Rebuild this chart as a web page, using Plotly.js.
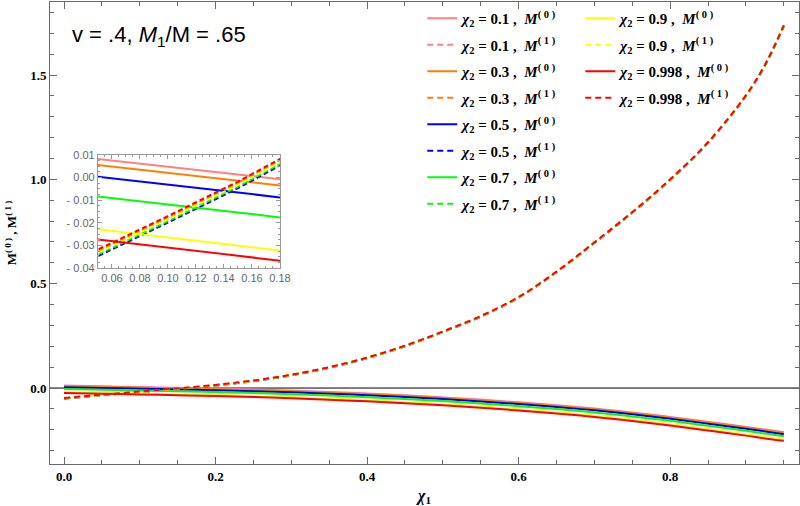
<!DOCTYPE html>
<html>
<head>
<meta charset="utf-8">
<script src="https://cdn.plot.ly/plotly-3.0.1.min.js"></script>
<style>html,body{margin:0;padding:0;background:#fff;}#chart{width:800px;height:506px;}</style>
</head>
<body>
<div id="chart"></div>
<script>
// chi_1 sample positions
const chi1 = [0, 0.05, 0.1, 0.15, 0.2, 0.25, 0.3, 0.35, 0.4, 0.45, 0.5, 0.55, 0.6, 0.65, 0.7, 0.75, 0.8, 0.85, 0.9, 0.925, 0.95];

// chi_2 values and series labels
const chi2Values = ["0.1", "0.3", "0.5", "0.7", "0.9", "0.998"];
const seriesColors = ["#FF8080", "#FF8000", "#0000FF", "#00FF00", "#FFFF00", "#FF0000"];

// M^(0) curves (solid)
const M0_01  = [0.0116, 0.0083, 0.0048, 0.0014, -0.0022, -0.0069, -0.0123, -0.0188, -0.0262, -0.0346, -0.0446, -0.0555, -0.0685, -0.0824, -0.0983, -0.1173, -0.1382, -0.1621, -0.1861, -0.1990, -0.2120];
const M0_03  = [0.0090, 0.0056, 0.0021, -0.0014, -0.0049, -0.0097, -0.0151, -0.0215, -0.0289, -0.0373, -0.0472, -0.0581, -0.0710, -0.0849, -0.1008, -0.1197, -0.1406, -0.1645, -0.1884, -0.2014, -0.2144];
const M0_05  = [0.0038, 0.0004, -0.0031, -0.0066, -0.0102, -0.0150, -0.0205, -0.0270, -0.0345, -0.0430, -0.0530, -0.0640, -0.0770, -0.0910, -0.1070, -0.1260, -0.1470, -0.1710, -0.1950, -0.2080, -0.2210];
const M0_07  = [-0.0049, -0.0083, -0.0118, -0.0154, -0.0191, -0.0240, -0.0296, -0.0362, -0.0438, -0.0524, -0.0625, -0.0736, -0.0867, -0.1008, -0.1169, -0.1360, -0.1571, -0.1811, -0.2052, -0.2182, -0.2310];
const M0_09  = [-0.0192, -0.0228, -0.0264, -0.0300, -0.0337, -0.0387, -0.0444, -0.0511, -0.0588, -0.0675, -0.0778, -0.0890, -0.1022, -0.1165, -0.1328, -0.1521, -0.1734, -0.1977, -0.2220, -0.2352, -0.2475];
const M0_0998 = [-0.0238, -0.0273, -0.0309, -0.0345, -0.0383, -0.0433, -0.0491, -0.0559, -0.0637, -0.0726, -0.0829, -0.0942, -0.1075, -0.1219, -0.1383, -0.1577, -0.1791, -0.2035, -0.2280, -0.2413, -0.2528];

// M^(1) curves (dashed)
const M1_01  = [-0.0489, -0.0326, -0.0178, -0.0026, 0.0141, 0.0351, 0.0631, 0.0991, 0.1451, 0.2021, 0.2701, 0.3441, 0.4351, 0.5571, 0.6971, 0.8421, 0.9991, 1.1771, 1.4021, 1.5471, 1.7371];
const M1_03  = [-0.0488, -0.0325, -0.0177, -0.0025, 0.0142, 0.0352, 0.0632, 0.0992, 0.1452, 0.2022, 0.2702, 0.3442, 0.4352, 0.5572, 0.6972, 0.8422, 0.9992, 1.1772, 1.4022, 1.5472, 1.7372];
const M1_05  = [-0.0510, -0.0347, -0.0199, -0.0047, 0.0120, 0.0330, 0.0610, 0.0970, 0.1430, 0.2000, 0.2680, 0.3420, 0.4330, 0.5550, 0.6950, 0.8400, 0.9970, 1.1750, 1.4000, 1.5450, 1.7350];
const M1_07  = [-0.0503, -0.0340, -0.0192, -0.0040, 0.0127, 0.0337, 0.0617, 0.0977, 0.1437, 0.2007, 0.2687, 0.3427, 0.4337, 0.5557, 0.6957, 0.8407, 0.9977, 1.1757, 1.4007, 1.5457, 1.7357];
const M1_09  = [-0.0495, -0.0332, -0.0184, -0.0032, 0.0135, 0.0345, 0.0625, 0.0985, 0.1445, 0.2015, 0.2695, 0.3435, 0.4345, 0.5565, 0.6965, 0.8415, 0.9985, 1.1765, 1.4015, 1.5465, 1.7365];
const M1_0998 = [-0.0481, -0.0318, -0.0170, -0.0018, 0.0149, 0.0359, 0.0639, 0.0999, 0.1459, 0.2029, 0.2709, 0.3449, 0.4359, 0.5579, 0.6979, 0.8429, 0.9999, 1.1779, 1.4029, 1.5479, 1.7379];

const M0series = [M0_01, M0_03, M0_05, M0_07, M0_09, M0_0998];
const M1series = [M1_01, M1_03, M1_05, M1_07, M1_09, M1_0998];

// inset tick labels
const insetYTickVals = [-0.04, -0.03, -0.02, -0.01, 0.0, 0.01];
const insetYTickText = ["- 0.04", "- 0.03", "- 0.02", "- 0.01", "0.00", "0.01"];

const NB = '\u00A0';
const traces = [];
const insetTraces = [];
for (let i = 0; i < chi2Values.length; i++) {
  const leg = i < 4 ? 'legend' : 'legend2';
  const base = '<i>χ</i><sub>2</sub>' + NB + '=' + NB + chi2Values[i] + NB + ',' + NB + NB + '<i>M</i>';
  const sup0 = '<sup>(' + NB + '0' + NB + ')</sup>';
  const sup1 = '<sup>(' + NB + '1' + NB + ')</sup>';
  traces.push({
    x: chi1, y: M0series[i], type: 'scatter', mode: 'lines',
    line: {color: seriesColors[i], width: 2, shape: 'spline'},
    name: base + sup0, legend: leg, legendgroup: 'g0_' + i, xaxis: 'x', yaxis: 'y'
  });
  traces.push({
    x: chi1, y: M1series[i], type: 'scatter', mode: 'lines',
    line: {color: seriesColors[i], width: 2, dash: '6px,4px', shape: 'spline'},
    name: base + sup1, legend: leg, legendgroup: 'g1_' + i, xaxis: 'x', yaxis: 'y'
  });
  insetTraces.push({
    x: chi1, y: M0series[i], type: 'scatter', mode: 'lines',
    line: {color: seriesColors[i], width: 2},
    showlegend: false, xaxis: 'x2', yaxis: 'y2', hoverinfo: 'skip'
  });
  insetTraces.push({
    x: chi1, y: M1series[i], type: 'scatter', mode: 'lines',
    line: {color: seriesColors[i], width: 2, dash: '5px,3px'},
    showlegend: false, xaxis: 'x2', yaxis: 'y2', hoverinfo: 'skip'
  });
}

const frameColor = '#6a6a6a';
const serifBold = {family: 'Liberation Serif', size: 13, color: '#000', weight: 'bold'};
const legendFont = {family: 'Liberation Serif', size: 15, color: '#000', weight: 'bold'};
const insetFont = {family: 'Liberation Sans', size: 11, color: '#666'};

const layout = {
  width: 800, height: 506,
  margin: {l: 50, r: 1, t: 2, b: 42},
  paper_bgcolor: '#fff', plot_bgcolor: '#fff',
  showlegend: true,
  xaxis: {
    domain: [0, 1], anchor: 'y', range: [-0.0185, 0.970],
    showline: true, mirror: 'ticks', linecolor: frameColor, linewidth: 1,
    ticks: 'inside', ticklen: 7, tickwidth: 1, tickcolor: frameColor,
    tick0: 0, dtick: 0.2, tickformat: '.1f',
    minor: {dtick: 0.05, ticks: 'inside', ticklen: 4, tickcolor: frameColor, showgrid: false},
    tickfont: serifBold, showgrid: false, zeroline: false,
    title: {text: '<i>χ</i><sub>1</sub>', font: {family: 'Liberation Serif', size: 16, color: '#000', weight: 'bold'}, standoff: 15}
  },
  yaxis: {
    domain: [0, 1], anchor: 'x', range: [-0.364, 1.85],
    showline: true, mirror: 'ticks', linecolor: frameColor, linewidth: 1,
    ticks: 'inside', ticklen: 7, tickwidth: 1, tickcolor: frameColor,
    tick0: 0, dtick: 0.5, tickformat: '.1f',
    minor: {dtick: 0.1, ticks: 'inside', ticklen: 4, tickcolor: frameColor, showgrid: false},
    tickfont: serifBold, showgrid: false, zeroline: false,
    title: {text: 'M<sup>(' + NB + '0' + NB + ')</sup>' + NB + ',' + NB + 'M<sup>(' + NB + '1' + NB + ')</sup>', font: {family: 'Liberation Serif', size: 13, color: '#000', weight: 'bold'}, standoff: 10}
  },
  xaxis2: {
    domain: [0.064, 0.307], anchor: 'y2', range: [0.05, 0.18],
    showline: true, mirror: 'ticks', linecolor: '#999', linewidth: 1,
    ticks: 'inside', ticklen: 4, tickwidth: 1, tickcolor: '#999',
    tick0: 0.06, dtick: 0.02, tickformat: '.2f',
    minor: {dtick: 0.005, ticks: 'inside', ticklen: 2, tickcolor: '#999', showgrid: false},
    tickfont: insetFont, showgrid: false, zeroline: false
  },
  yaxis2: {
    domain: [0.424, 0.669], anchor: 'x2', range: [-0.04, 0.01],
    showline: true, mirror: 'ticks', linecolor: '#999', linewidth: 1,
    ticks: 'inside', ticklen: 4, tickwidth: 1, tickcolor: '#999',
    tickmode: 'array', tickvals: insetYTickVals, ticktext: insetYTickText,
    minor: {tickmode: 'linear', tick0: 0, dtick: 0.0025, ticks: 'inside', ticklen: 2, tickcolor: '#999', showgrid: false},
    tickfont: insetFont, showgrid: false, zeroline: false
  },
  legend: {
    x: 0.497, y: 1.0, xanchor: 'left', yanchor: 'top',
    font: legendFont, bgcolor: 'rgba(0,0,0,0)', borderwidth: 0, tracegroupgap: 4
  },
  legend2: {
    x: 0.708, y: 1.0, xanchor: 'left', yanchor: 'top',
    font: legendFont, bgcolor: 'rgba(0,0,0,0)', borderwidth: 0, tracegroupgap: 4
  },
  shapes: [
    {type: 'line', xref: 'paper', x0: 0, x1: 1, yref: 'y', y0: 0, y1: 0, line: {color: '#000', width: 1}, layer: 'below'},
    {type: 'line', xref: 'x2 domain', x0: 0, x1: 1, yref: 'y2', y0: 0, y1: 0, line: {color: '#000', width: 1}, layer: 'below'}
  ],
  annotations: [
    {text: 'v = .4, <i>M</i><sub>1</sub>/M = .65', xref: 'paper', yref: 'paper', x: 0.027, y: 0.926,
     xanchor: 'left', yanchor: 'middle', showarrow: false,
     font: {family: 'Liberation Sans', size: 22, color: '#000'}}
  ]
};

Plotly.newPlot('chart', traces.concat(insetTraces), layout, {displayModeBar: false, staticPlot: true});
</script>
</body>
</html>
